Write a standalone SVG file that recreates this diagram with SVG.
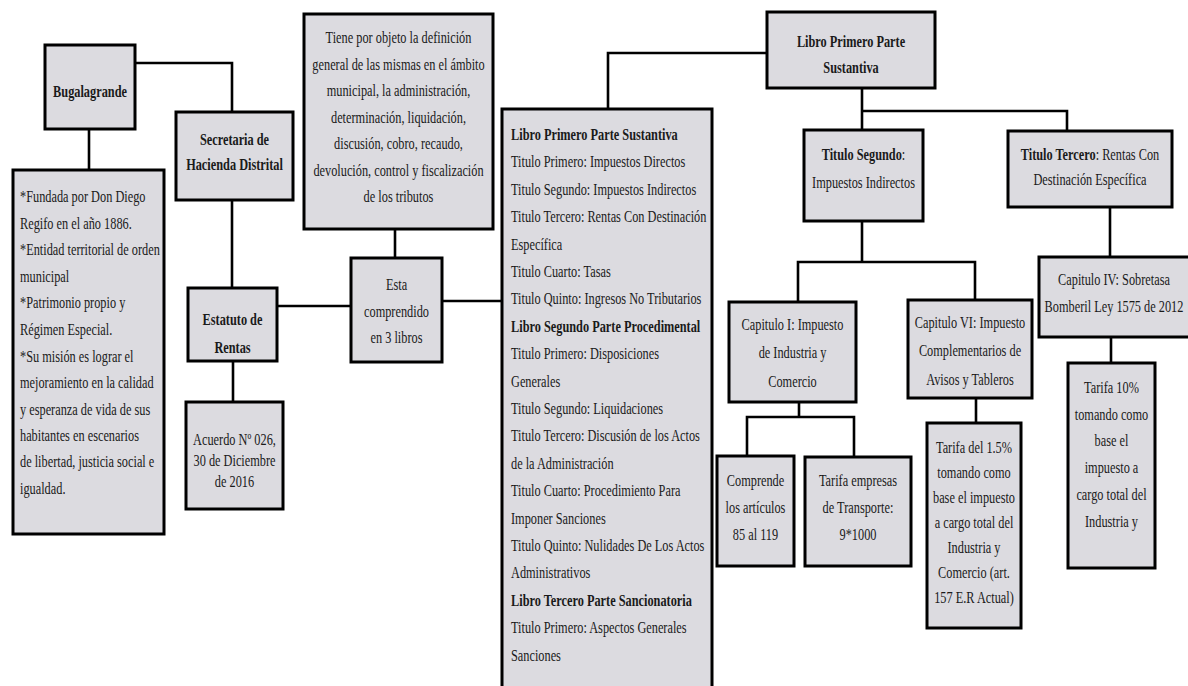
<svg xmlns="http://www.w3.org/2000/svg" width="1188" height="686" viewBox="0 0 1188 686">
<style>
.box{fill:#dcdbe0;stroke:#000;stroke-width:3}
.c{fill:none;stroke:#000;stroke-width:2.6}
text{font-family:"Liberation Serif","Times New Roman",serif;font-size:16px;fill:#1a1a1a}
.m{text-anchor:middle}
.b{font-weight:bold}
</style>
<rect width="1188" height="686" fill="#fff"/>
<g id="connectors">
<path class="c" d="M89,129V170"/>
<path class="c" d="M135,63H232V112"/>
<path class="c" d="M232,200V288"/>
<path class="c" d="M233,361V402"/>
<path class="c" d="M277,306H351"/>
<path class="c" d="M395,229V258"/>
<path class="c" d="M442,301H502"/>
<path class="c" d="M608,109V53H767"/>
<path class="c" d="M862,88V130"/>
<path class="c" d="M862,111H1067V131"/>
<path class="c" d="M862,221V262"/>
<path class="c" d="M798,302V262H975V300"/>
<path class="c" d="M799,402V417"/>
<path class="c" d="M747,456V417H854V457"/>
<path class="c" d="M976,398V423"/>
<path class="c" d="M1110,207V257"/>
<path class="c" d="M1111,337V363"/>
</g>
<g id="bugalagrande">
<rect class="box" x="45" y="45" width="90" height="84"/>
<g transform="translate(90,0) scale(0.77,1)"><text class="m b" x="0" y="97">Bugalagrande</text></g>
</g>
<g id="bugalagrande-info">
<rect class="box" x="13" y="170" width="151" height="364"/>
<g transform="translate(20,0) scale(0.77,1)">
<text x="0" y="202">*Fundada por Don Diego</text>
<text x="0" y="229">Regifo  en el año 1886.</text>
<text x="0" y="255">*Entidad  territorial de orden</text>
<text x="0" y="282">municipal</text>
<text x="0" y="308">*Patrimonio  propio y</text>
<text x="0" y="335">Régimen  Especial.</text>
<text x="0" y="362">*Su misión es lograr el</text>
<text x="0" y="388">mejoramiento  en la calidad</text>
<text x="0" y="415">y esperanza de vida de sus</text>
<text x="0" y="441">habitantes  en escenarios</text>
<text x="0" y="467">de libertad, justicia social e</text>
<text x="0" y="494">igualdad.</text>
</g>
</g>
<g id="secretaria">
<rect class="box" x="176" y="112" width="117" height="88"/>
<g transform="translate(234.5,0) scale(0.77,1)">
<text class="m b" x="0" y="145">Secretaria de</text>
<text class="m b" x="0" y="170">Hacienda Distrital</text>
</g>
</g>
<g id="estatuto">
<rect class="box" x="188" y="288" width="89" height="73"/>
<g transform="translate(232.5,0) scale(0.77,1)">
<text class="m b" x="0" y="325">Estatuto de</text>
<text class="m b" x="0" y="353">Rentas</text>
</g>
</g>
<g id="acuerdo">
<rect class="box" x="186" y="402" width="97" height="107"/>
<g transform="translate(234.5,0) scale(0.77,1)">
<text class="m" x="0" y="445">Acuerdo Nº 026,</text>
<text class="m" x="0" y="466">30 de Diciembre</text>
<text class="m" x="0" y="487">de 2016</text>
</g>
</g>
<g id="objeto">
<rect class="box" x="304" y="14" width="189" height="215"/>
<g transform="translate(398.5,0) scale(0.77,1)">
<text class="m" x="0" y="43">Tiene por objeto la definición</text>
<text class="m" x="0" y="70">general  de las  mismas  en el ámbito</text>
<text class="m" x="0" y="96">municipal,  la administración,</text>
<text class="m" x="0" y="123">determinación,  liquidación,</text>
<text class="m" x="0" y="149">discusión,  cobro, recaudo,</text>
<text class="m" x="0" y="176">devolución,  control y fiscalización</text>
<text class="m" x="0" y="202">de los  tributos</text>
</g>
</g>
<g id="comprendido">
<rect class="box" x="351" y="258" width="91" height="104"/>
<g transform="translate(396.5,0) scale(0.77,1)">
<text class="m" x="0" y="290">Esta</text>
<text class="m" x="0" y="317">comprendido</text>
<text class="m" x="0" y="343">en 3 libros</text>
</g>
</g>
<g id="libros">
<rect class="box" x="502" y="109" width="210" height="590"/>
<g transform="translate(511,0) scale(0.77,1)">
<text class="b" x="0" y="140">Libro Primero  Parte  Sustantiva</text>
<text x="0" y="167">Titulo  Primero:  Impuestos  Directos</text>
<text x="0" y="195">Titulo  Segundo:  Impuestos  Indirectos</text>
<text x="0" y="222">Titulo  Tercero:  Rentas  Con Destinación</text>
<text x="0" y="250">Específica</text>
<text x="0" y="277">Titulo  Cuarto:  Tasas</text>
<text x="0" y="304">Titulo  Quinto:  Ingresos  No Tributarios</text>
<text class="b" x="0" y="332">Libro Segundo  Parte  Procedimental</text>
<text x="0" y="359">Titulo  Primero:  Disposiciones</text>
<text x="0" y="387">Generales</text>
<text x="0" y="414">Titulo  Segundo:  Liquidaciones</text>
<text x="0" y="441">Titulo  Tercero:  Discusión  de los Actos</text>
<text x="0" y="469">de la Administración</text>
<text x="0" y="496">Titulo  Cuarto:  Procedimiento  Para</text>
<text x="0" y="524">Imponer  Sanciones</text>
<text x="0" y="551">Titulo  Quinto:  Nulidades  De Los  Actos</text>
<text x="0" y="578">Administrativos</text>
<text class="b" x="0" y="606">Libro Tercero  Parte  Sancionatoria</text>
<text x="0" y="633">Titulo  Primero:  Aspectos  Generales</text>
<text x="0" y="661">Sanciones</text>
</g>
</g>
<g id="libro-primero">
<rect class="box" x="767" y="12" width="168" height="76"/>
<g transform="translate(851,0) scale(0.77,1)">
<text class="m b" x="0" y="47">Libro Primero  Parte</text>
<text class="m b" x="0" y="73">Sustantiva</text>
</g>
</g>
<g id="titulo-segundo">
<rect class="box" x="804" y="130" width="119" height="91"/>
<g transform="translate(863.5,0) scale(0.77,1)">
<text class="m" x="0" y="160"><tspan class="b">Titulo Segundo</tspan>:</text>
<text class="m" x="0" y="188">Impuestos  Indirectos</text>
</g>
</g>
<g id="titulo-tercero">
<rect class="box" x="1008" y="131" width="164" height="76"/>
<g transform="translate(1090,0) scale(0.77,1)">
<text class="m" x="0" y="160"><tspan class="b">Titulo Tercero</tspan>: Rentas Con</text>
<text class="m" x="0" y="185">Destinación  Específica</text>
</g>
</g>
<g id="capitulo-i">
<rect class="box" x="729" y="302" width="127" height="100"/>
<g transform="translate(792.5,0) scale(0.77,1)">
<text class="m" x="0" y="330">Capitulo  I: Impuesto</text>
<text class="m" x="0" y="358">de Industria  y</text>
<text class="m" x="0" y="387">Comercio</text>
</g>
</g>
<g id="capitulo-vi">
<rect class="box" x="908" y="300" width="124" height="98"/>
<g transform="translate(970,0) scale(0.77,1)">
<text class="m" x="0" y="328">Capitulo  VI: Impuesto</text>
<text class="m" x="0" y="356">Complementarios  de</text>
<text class="m" x="0" y="385">Avisos  y Tableros</text>
</g>
</g>
<g id="comprende">
<rect class="box" x="717" y="456" width="77" height="110"/>
<g transform="translate(755.5,0) scale(0.77,1)">
<text class="m" x="0" y="486">Comprende</text>
<text class="m" x="0" y="513">los artículos</text>
<text class="m" x="0" y="540">85 al 119</text>
</g>
</g>
<g id="tarifa-transporte">
<rect class="box" x="805" y="457" width="106" height="109"/>
<g transform="translate(858,0) scale(0.77,1)">
<text class="m" x="0" y="486">Tarifa  empresas</text>
<text class="m" x="0" y="513">de Transporte:</text>
<text class="m" x="0" y="540">9*1000</text>
</g>
</g>
<g id="tarifa-avisos">
<rect class="box" x="927" y="423" width="94" height="205"/>
<g transform="translate(974,0) scale(0.77,1)">
<text class="m" x="0" y="453">Tarifa del 1.5%</text>
<text class="m" x="0" y="478">tomando como</text>
<text class="m" x="0" y="503">base el impuesto</text>
<text class="m" x="0" y="528">a cargo total del</text>
<text class="m" x="0" y="553">Industria y</text>
<text class="m" x="0" y="578">Comercio (art.</text>
<text class="m" x="0" y="603">157 E.R Actual)</text>
</g>
</g>
<g id="capitulo-iv">
<rect class="box" x="1039" y="257" width="160" height="80"/>
<g transform="translate(1114,0) scale(0.77,1)">
<text class="m" x="0" y="285">Capitulo  IV: Sobretasa</text>
<text class="m" x="0" y="312">Bomberil  Ley 1575 de 2012</text>
</g>
</g>
<g id="tarifa-bomberil">
<rect class="box" x="1068" y="363" width="87" height="205"/>
<g transform="translate(1111.5,0) scale(0.77,1)">
<text class="m" x="0" y="393">Tarifa  10%</text>
<text class="m" x="0" y="420">tomando como</text>
<text class="m" x="0" y="446">base el</text>
<text class="m" x="0" y="473">impuesto  a</text>
<text class="m" x="0" y="500">cargo  total del</text>
<text class="m" x="0" y="527">Industria  y</text>
</g>
</g>
</svg>
